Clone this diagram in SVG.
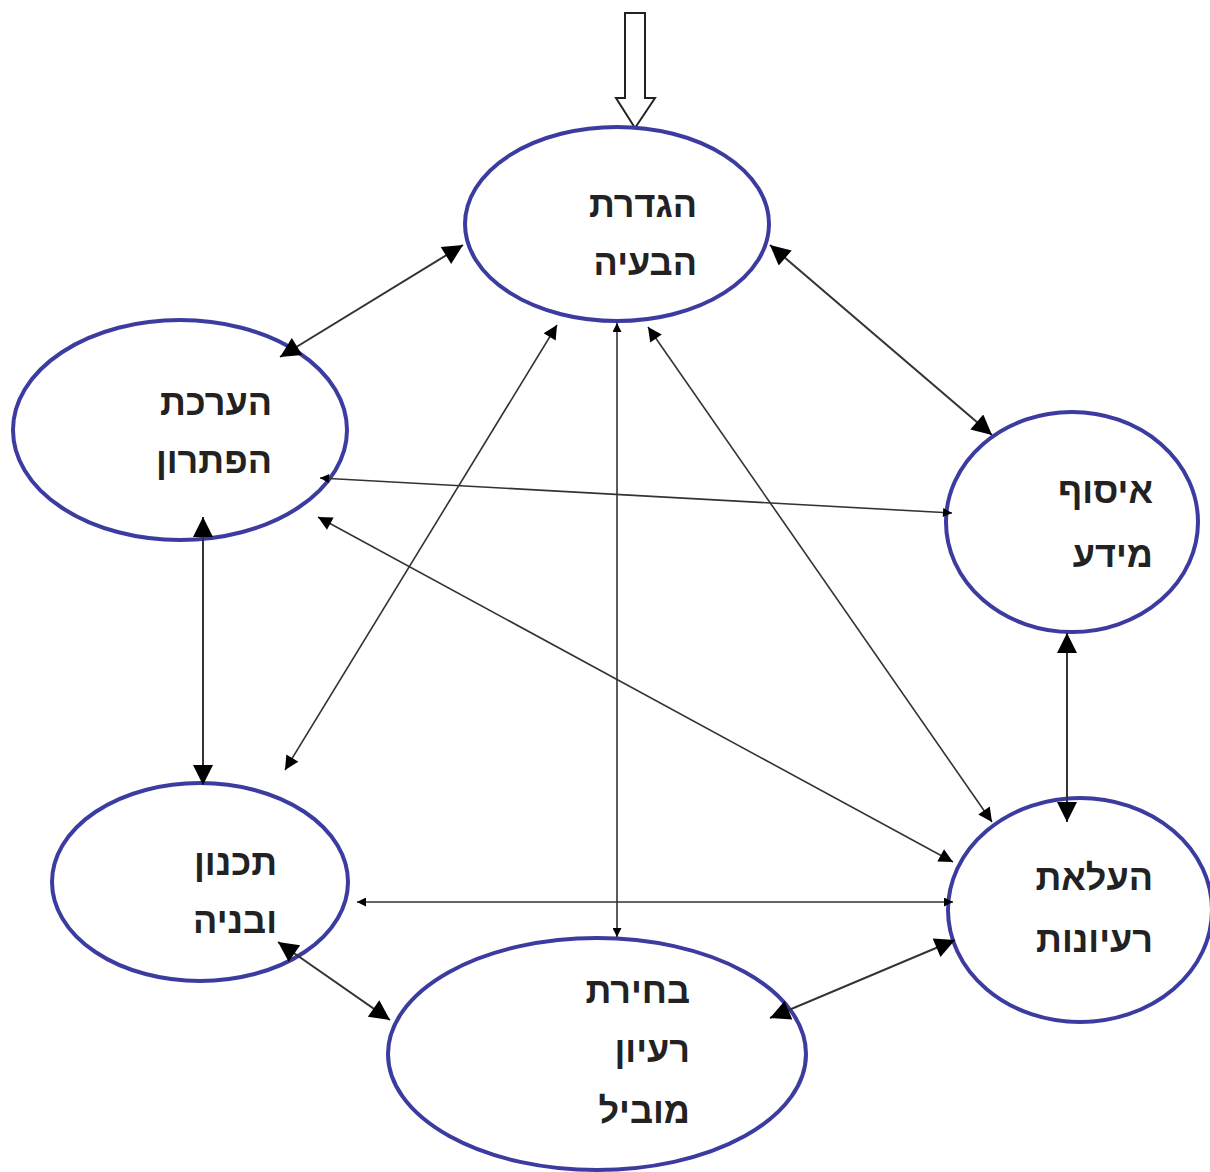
<svg xmlns="http://www.w3.org/2000/svg" width="1210" height="1172" viewBox="0 0 1210 1172">
<style>
.node ellipse{fill:#ffffff;stroke:#3c3ca0;stroke-width:4}
.node text{font-family:"Liberation Sans","DejaVu Sans",sans-serif;font-size:36px;font-weight:bold;fill:#222;text-anchor:end}
.c{stroke:#333;fill:none}
.w{stroke-width:2}
.t{stroke-width:1.6}
</style>
<defs>
<marker id="L" viewBox="0 0 10 10" refX="10" refY="5" markerWidth="22" markerHeight="20" markerUnits="userSpaceOnUse" orient="auto-start-reverse"><path d="M0,0 L10,5 L0,10 z" fill="#000"/></marker>
<marker id="M" viewBox="0 0 10 10" refX="10" refY="5" markerWidth="16" markerHeight="14" markerUnits="userSpaceOnUse" orient="auto-start-reverse"><path d="M0,0 L10,5 L0,10 z" fill="#000"/></marker>
<marker id="S" viewBox="0 0 10 10" refX="10" refY="5" markerWidth="12" markerHeight="9" markerUnits="userSpaceOnUse" orient="auto-start-reverse"><path d="M0,0 L10,5 L0,10 z" fill="#000"/></marker>
</defs>
<rect width="1210" height="1172" fill="#fff"/>
<g id="start-arrow">
<polygon points="625,13 645,13 645,98 655,98 635,128 616,98 625,98" fill="#fff" stroke="#222" stroke-width="2"/>
</g>
<g id="node-problem" class="node">
<ellipse cx="617" cy="224" rx="152" ry="97"/>
<text x="697" y="217">הגדרת</text>
<text x="697" y="275">הבעיה</text>
</g>
<g id="node-evaluation" class="node">
<ellipse cx="180" cy="430" rx="167" ry="110"/>
<text x="272" y="415">הערכת</text>
<text x="272" y="473">הפתרון</text>
</g>
<g id="node-info" class="node">
<ellipse cx="1072" cy="522" rx="126" ry="110"/>
<text x="1153" y="503">איסוף</text>
<text x="1153" y="567">מידע</text>
</g>
<g id="node-planning" class="node">
<ellipse cx="200" cy="882" rx="148" ry="99"/>
<text x="277" y="875">תכנון</text>
<text x="277" y="933">ובניה</text>
</g>
<g id="node-ideas" class="node">
<ellipse cx="1080" cy="910" rx="132" ry="112"/>
<text x="1153" y="890">העלאת</text>
<text x="1153" y="952">רעיונות</text>
</g>
<g id="node-choice" class="node">
<ellipse cx="597" cy="1054" rx="209" ry="116"/>
<text x="690" y="1003">בחירת</text>
<text x="690" y="1062">רעיון</text>
<text x="690" y="1123">מוביל</text>
</g>
<g id="connectors">
<line class="c w" x1="280" y1="357" x2="463" y2="245" marker-start="url(#L)" marker-end="url(#L)"/>
<line class="c w" x1="770" y1="245" x2="992" y2="435" marker-start="url(#L)" marker-end="url(#L)"/>
<line class="c t" x1="320" y1="478" x2="952" y2="513" marker-start="url(#S)" marker-end="url(#S)"/>
<line class="c t" x1="318" y1="517" x2="953" y2="862" marker-start="url(#M)" marker-end="url(#M)"/>
<line class="c w" x1="203" y1="517" x2="203" y2="785" marker-start="url(#L)" marker-end="url(#L)"/>
<line class="c t" x1="557" y1="325" x2="285" y2="770" marker-start="url(#M)" marker-end="url(#M)"/>
<line class="c t" x1="617" y1="323" x2="617" y2="937" marker-start="url(#S)" marker-end="url(#S)"/>
<line class="c t" x1="648" y1="327" x2="992" y2="822" marker-start="url(#M)" marker-end="url(#M)"/>
<line class="c w" x1="1067" y1="633" x2="1067" y2="822" marker-start="url(#L)" marker-end="url(#L)"/>
<line class="c t" x1="357" y1="902" x2="953" y2="902" marker-start="url(#S)" marker-end="url(#S)"/>
<line class="c w" x1="278" y1="942" x2="390" y2="1020" marker-start="url(#L)" marker-end="url(#L)"/>
<line class="c w" x1="770" y1="1018" x2="955" y2="940" marker-start="url(#L)" marker-end="url(#L)"/>
</g>
</svg>
